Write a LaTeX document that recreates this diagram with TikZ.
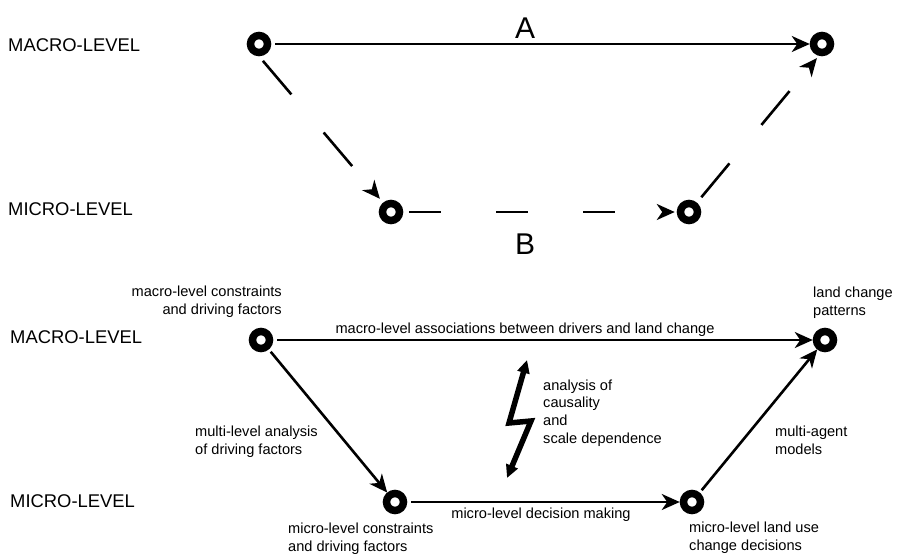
\documentclass[tikz,border=0pt]{standalone}
\usepackage{fontspec}
\setmainfont{Liberation Sans}
\usetikzlibrary{arrows.meta}
\begin{document}
\begin{tikzpicture}[x=1pt,y=-1pt,
  ring/.style={circle,draw,line width=7.5pt,minimum size=17pt,inner sep=0pt,outer sep=3.75pt},
  lvl/.style={font=\fontsize{18.4}{21}\selectfont,inner sep=0pt},
  lab/.style={font=\fontsize{14.6}{17.6}\selectfont,inner sep=0pt},
  big/.style={font=\fontsize{30}{34}\selectfont,inner sep=0pt},
  arr/.style={line width=2.6pt,-{Stealth[length=18pt,width=16pt,inset=5.5pt]}},
  darr/.style={arr,dash pattern=on 44pt off 50pt},
]
\useasboundingbox (0,0) rectangle (900,557);

% ---------- upper diagram ----------
\node[ring] (A1) at (259,44) {};
\node[ring] (A2) at (822,44) {};
\node[ring] (B1) at (391,212) {};
\node[ring] (B2) at (689,212) {};

\node[lvl,anchor=base west] (tm) at (8,51) {MACRO-LEVEL};
\node[lvl,anchor=base west] (tn) at (8,215) {MICRO-LEVEL};
\node[big,anchor=base] (la) at (525,38) {A};
\node[big,anchor=base] (lb) at (525,254) {B};

\draw[arr,shorten <=4pt] (A1) -- (A2);
\draw[darr,shorten <=6pt,shorten >=5pt] (A1.south) -- (B1.130);
\draw[darr,shorten <=6pt,shorten >=2pt,dash pattern=on 32pt off 55pt] (B1) -- (B2);
\draw[darr,shorten <=7pt,shorten >=3pt] (B2.50) -- (A2.255);

% ---------- lower diagram ----------
\node[ring] (C1) at (261,340) {};
\node[ring] (C2) at (825,340) {};
\node[ring] (D1) at (395,502) {};
\node[ring] (D2) at (692,502) {};

\node[lvl,anchor=base west] (bm) at (10,343) {MACRO-LEVEL};
\node[lvl,anchor=base west] (bn) at (10,507) {MICRO-LEVEL};

\draw[arr,shorten <=4pt] (C1) -- (C2);
\draw[arr,shorten <=3pt] (C1) -- (D1);
\draw[arr,shorten <=4pt] (D1) -- (D2);
\draw[arr,shorten <=3pt] (D2) -- (C2);

\node[lab,anchor=base] (t1) at (525,333) {macro-level associations between drivers and land change};
\node[lab,anchor=base] (t2) at (541,518) {micro-level decision making};
\node[lab,anchor=base east,align=right] (t3) at (282,314) {macro-level constraints\\and driving factors};
\node[lab,anchor=base west,align=left] (t4) at (813,315) {land change\\patterns};
\node[lab,anchor=base west,align=left] (t5) at (195,454) {multi-level analysis\\of driving factors};
\node[lab,anchor=base west,align=left] (t6) at (288,551) {micro-level constraints\\and driving factors};
\node[lab,anchor=base west,align=left] (t7) at (689,550) {micro-level land use\\change decisions};
\node[lab,anchor=base west,align=left] (t8) at (775,454) {multi-agent\\models};
\node[lab,anchor=base west,align=left] (t9) at (543,443) {analysis of\\causality\\and\\scale dependence};

% lightning bolt
\coordinate (z1) at (527,360);
\coordinate (z2) at (509,423);
\coordinate (z3) at (531,421);
\coordinate (z4) at (507,478);
\draw[line width=5.5pt,miter limit=10,{Triangle[length=13pt,width=12pt]}-{Triangle[length=13pt,width=12pt]}] (z1) -- (z2) -- (z3) -- (z4);
\end{tikzpicture}
\end{document}
